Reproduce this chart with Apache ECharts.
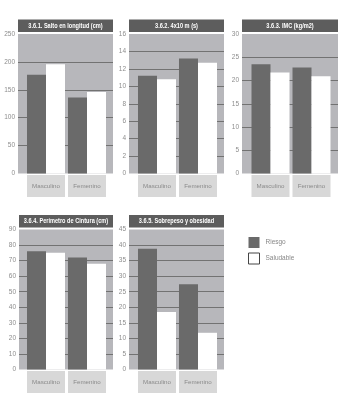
<!DOCTYPE html>
<html>
<head>
<meta charset="utf-8">
<style>
html,body{margin:0;padding:0;background:#fff;}
#chart{width:355px;height:396px;}
</style>
<script src="https://cdn.jsdelivr.net/npm/echarts@6/dist/echarts.min.js"></script>
</head>
<body>
<div id="chart"></div>
<script>
// ---- data ----
const categories = ['Masculino', 'Femenino'];
const seriesNames = ['Riesgo', 'Saludable'];
const titles = [
  '3.6.1. Salto en longitud (cm)',
  '3.6.2. 4x10 m (s)',
  '3.6.3. IMC (kg/m2)',
  '3.6.4. Perímetro de Cintura (cm)',
  '3.6.5. Sobrepeso y obesidad'
];
const saltoRiesgo = [177, 136];
const saltoSaludable = [196, 146];
const agilidadRiesgo = [11.2, 13.2];
const agilidadSaludable = [10.8, 12.7];
const imcRiesgo = [23.5, 22.8];
const imcSaludable = [21.7, 20.9];
const cinturaRiesgo = [76, 72];
const cinturaSaludable = [75, 68];
const sobrepesoRiesgo = [38.8, 27.4];
const sobrepesoSaludable = [18.5, 11.8];
const yMax = [250, 16, 30, 90, 45];
const yInterval = [50, 2, 5, 10, 5];

// ---- layout ----
const FONT = "'Liberation Sans', Arial, sans-serif";
const panels = [
  {bgLeft: 18,  bgWidth: 95, top: 34,    height: 139.5, titleTop: 19.5},
  {bgLeft: 129, bgWidth: 95, top: 34,    height: 139.5, titleTop: 19.5},
  {bgLeft: 242, bgWidth: 96, top: 34,    height: 139.5, titleTop: 19.5},
  {bgLeft: 19,  bgWidth: 94, top: 229.5, height: 140,   titleTop: 215},
  {bgLeft: 129, bgWidth: 95, top: 229.5, height: 140,   titleTop: 215}
];
const dataOffset = [7.5, 7.5, 8, 6.5, 7.5];
const values = [
  [saltoRiesgo, saltoSaludable],
  [agilidadRiesgo, agilidadSaludable],
  [imcRiesgo, imcSaludable],
  [cinturaRiesgo, cinturaSaludable],
  [sobrepesoRiesgo, sobrepesoSaludable]
];

const DARK = '#6a6a6a';
const BG = '#b7b7bb';

const grid = [], xAxis = [], yAxis = [], series = [], graphic = [];
panels.forEach((p, i) => {
  const bgIdx = grid.length;
  grid.push({left: p.bgLeft, width: p.bgWidth, top: p.top, height: p.height,
    show: true, backgroundColor: BG, borderWidth: 0, containLabel: false});
  xAxis.push({gridIndex: bgIdx, type: 'value', show: false, min: 0, max: 1});
  yAxis.push({gridIndex: bgIdx, type: 'value', min: 0, max: yMax[i], interval: yInterval[i],
    axisLine: {show: false}, axisTick: {show: false},
    axisLabel: {fontSize: 6.5, color: '#8d8d8d', margin: 3, fontFamily: FONT},
    splitLine: {show: true, showMaxLine: false, showMinLine: false,
      lineStyle: {color: '#727272', width: 1}}});

  const dIdx = grid.length;
  grid.push({left: p.bgLeft + dataOffset[i], width: 82, top: p.top, height: p.height,
    show: false, containLabel: false});
  xAxis.push({gridIndex: dIdx, type: 'category', data: categories,
    axisLine: {show: false}, axisTick: {show: false},
    axisLabel: {margin: 1.5, fontSize: 6.2, color: '#8a8a8a', fontFamily: FONT,
      backgroundColor: '#d8d8d8', width: 38, height: 22, lineHeight: 22, align: 'center'}});
  yAxis.push({gridIndex: dIdx, type: 'value', min: 0, max: yMax[i], interval: yInterval[i], show: false});

  seriesNames.forEach((name, k) => {
    series.push({
      name: name, type: 'bar', xAxisIndex: dIdx, yAxisIndex: dIdx,
      data: values[i][k], barGap: '0%', barCategoryGap: '7.3%',
      itemStyle: {color: k === 0 ? DARK : '#ffffff'},
      emphasis: {disabled: true}, animation: false
    });
  });

  graphic.push({
    type: 'group', left: p.bgLeft, top: p.titleTop, silent: true,
    children: [
      {type: 'rect', shape: {x: 0, y: 0, width: p.bgWidth, height: 12.5},
        style: {fill: '#5d5d5d'}},
      {type: 'text', x: p.bgWidth / 2, y: 6.5, scaleX: 0.8,
        style: {text: titles[i], fill: '#ffffff', font: 'bold 7px ' + FONT,
          align: 'center', verticalAlign: 'middle'}}
    ]
  });
});

const chart = echarts.init(document.getElementById('chart'), null, {renderer: 'canvas'});
chart.setOption({
  animation: false,
  backgroundColor: '#ffffff',
  grid, xAxis, yAxis, series, graphic,
  legend: {
    orient: 'vertical', left: 243, top: 232, itemWidth: 11, itemHeight: 11, itemGap: 4.5,
    selectedMode: false,
    textStyle: {fontSize: 6.5, color: '#888', fontFamily: FONT, padding: [0, 0, 0, 1]},
    data: [
      {name: 'Riesgo', icon: 'rect', itemStyle: {color: DARK, borderWidth: 0}},
      {name: 'Saludable', icon: 'rect', itemStyle: {color: '#ffffff', borderColor: '#444', borderWidth: 1}}
    ]
  }
});
</script>
</body>
</html>
